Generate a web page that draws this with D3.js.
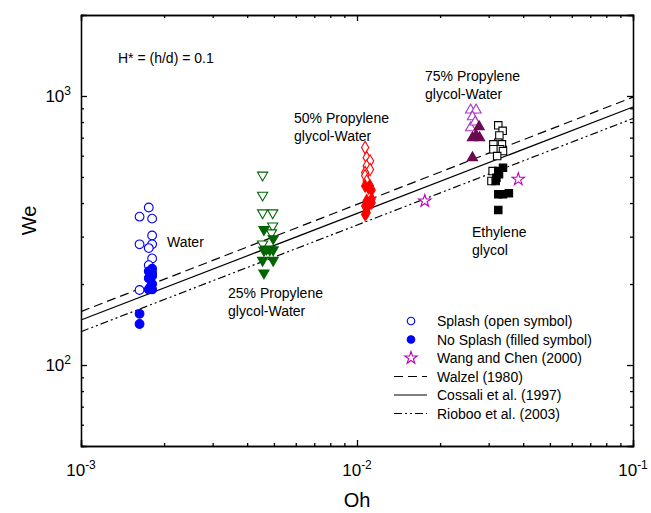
<!DOCTYPE html>
<html lang="en">
<head>
<meta charset="UTF-8">
<title>We vs Oh</title>
<script src="https://cdn.jsdelivr.net/npm/d3@7/dist/d3.min.js"></script>
<style>
  body { margin: 0; background: #fff; }
  text { font-family: "Liberation Sans", Arial, sans-serif; fill: #000; }
</style>
</head>
<body>
<svg id="chart" width="651" height="513"></svg>
<script>
// data: [Oh, We]
const waterOpen = [[1.76e-3,385],[1.63e-3,356],[1.81e-3,350],[1.81e-3,303],[1.63e-3,281],[1.81e-3,281],[1.76e-3,272],[1.81e-3,249],[1.76e-3,235],[1.63e-3,190]];
const waterFilled = [[1.81e-3,228],[1.81e-3,220],[1.76e-3,223],[1.81e-3,214],[1.76e-3,210],[1.81e-3,200],[1.78e-3,194],[1.76e-3,191],[1.81e-3,191],[1.63e-3,155],[1.63e-3,142]];
const pg25Open = [[4.55e-3,508],[4.55e-3,428],[4.55e-3,368],[4.95e-3,368],[4.95e-3,329],[4.9e-3,310],[4.55e-3,282]];
const pg25Filled = [[4.6e-3,319],[4.97e-3,295],[4.7e-3,270],[4.83e-3,268],[4.97e-3,268],[4.6e-3,267],[4.55e-3,245],[4.97e-3,245],[4.6e-3,220]];
const pg50Open = [[1.07e-2,643],[1.084e-2,590],[1.115e-2,573],[1.084e-2,549],[1.115e-2,533],[1.07e-2,519],[1.07e-2,505],[1.084e-2,483]];
const pg50Filled = [[1.07e-2,463],[1.115e-2,463],[1.10e-2,456],[1.13e-2,447],[1.084e-2,408],[1.13e-2,414],[1.07e-2,390],[1.10e-2,390],[1.13e-2,401],[1.084e-2,368],[1.07e-2,363]];
const pg75Open = [[2.58e-2,887],[2.7e-2,887],[2.62e-2,837],[2.58e-2,762],[2.68e-2,800]];
const pg75Filled = [[2.77e-2,769],[2.62e-2,700],[2.7e-2,715],[2.78e-2,700],[2.62e-2,590]];
const egOpen = [[3.25e-2,778],[3.37e-2,742],[3.28e-2,713],[3.25e-2,670],[3.12e-2,661],[3.35e-2,661],[3.30e-2,634],[3.12e-2,634],[3.38e-2,624],[3.22e-2,598],[3.10e-2,526],[3.07e-2,483]];
const egFilled = [[3.38e-2,541],[3.25e-2,526],[3.27e-2,512],[3.2e-2,497],[3.18e-2,483],[3.25e-2,431],[3.38e-2,431],[3.55e-2,435],[3.25e-2,377]];
const wangChen = [[1.76e-2,407],[3.84e-2,490]];

// correlation lines, values at Oh = 1e-3 and 1e-1
const lineOh = [1e-3, 1e-1];
const walzel = [158, 990];
const cossali = [147, 910];
const rioboo = [133, 825];

const xMajor = [1e-3, 1e-2, 1e-1];
const xLabels = ["-3", "-2", "-1"];
const yMajor = [1e2, 1e3];
const yLabels = ["2", "3"];

var margin = { top: 15, right: 18, bottom: 67, left: 81 };
var width = 651 - margin.left - margin.right,
    height = 513 - margin.top - margin.bottom;

var svg = d3.select("#chart");
var g = svg.append("g").attr("transform", `translate(${margin.left},${margin.top})`);

var x = d3.scaleLog().domain([1e-3, 1e-1]).range([0, width]);
var y = d3.scaleLog().domain([50, 2000]).range([height, 0]);

function minors(lo, hi) {
    var out = [];
    for (var p = Math.floor(Math.log10(lo)); p <= Math.ceil(Math.log10(hi)); p++) {
        for (var k = 2; k <= 9; k++) {
            var v = k * Math.pow(10, p);
            if (v > lo && v < hi) out.push(v);
        }
    }
    return out;
}
var xMinor = minors(1e-3, 1e-1);
var yMinor = minors(50, 2000);

// frame axes, ticks pointing inward
function addAxis(axisFn, scale, vals, size, tr) {
    var a = g.append("g").attr("transform", tr)
        .call(axisFn(scale).tickValues(vals).tickSize(size).tickFormat(""));
    a.selectAll("path, line").attr("stroke", "#000").attr("stroke-width", 1.3);
    return a;
}
addAxis(d3.axisBottom, x, xMinor, -3, `translate(0,${height})`);
addAxis(d3.axisBottom, x, xMajor, -6, `translate(0,${height})`);
addAxis(d3.axisTop, x, xMinor, -3, "translate(0,0)");
addAxis(d3.axisTop, x, xMajor, -6, "translate(0,0)");
addAxis(d3.axisLeft, y, yMinor, -3, "translate(0,0)");
addAxis(d3.axisLeft, y, yMajor, -6, "translate(0,0)");
addAxis(d3.axisRight, y, yMinor, -3, `translate(${width},0)`);
addAxis(d3.axisRight, y, yMajor, -6, `translate(${width},0)`);

// tick labels with superscripts
xMajor.forEach(function (v, i) {
    var t = g.append("text").attr("x", x(v)).attr("y", height + 30)
        .attr("text-anchor", "middle").style("font-size", "17px");
    t.append("tspan").text("10");
    t.append("tspan").attr("dy", -7).style("font-size", "12px").text(xLabels[i]);
});
yMajor.forEach(function (v, i) {
    var t = g.append("text").attr("x", -10).attr("y", y(v) + 6)
        .attr("text-anchor", "end").style("font-size", "17px");
    t.append("tspan").text("10");
    t.append("tspan").attr("dy", -7).style("font-size", "12px").text(yLabels[i]);
});

g.append("text").attr("x", width / 2).attr("y", height + 61)
    .attr("text-anchor", "middle").style("font-size", "20px").text("Oh");
g.append("text").attr("transform", `translate(-45,${height / 2 - 10}) rotate(-90)`)
    .attr("text-anchor", "middle").style("font-size", "20px").text("We");

// correlation lines
var lineGen = d3.line().x(d => x(d[0])).y(d => y(d[1]));
var lineStyles = [
    { vals: walzel, dash: "9,5" },
    { vals: cossali, dash: null },
    { vals: rioboo, dash: "8,3,2,3,2,3" }
];
lineStyles.forEach(function (s) {
    g.append("path")
        .attr("d", lineGen(lineOh.map((o, i) => [o, s.vals[i]])))
        .attr("fill", "none").attr("stroke", "#000").attr("stroke-width", 1.2)
        .attr("stroke-dasharray", s.dash);
});

// markers
function drawPts(data, type, size, color, filled) {
    g.append("g").selectAll("path").data(data).enter().append("path")
        .attr("transform", d => `translate(${x(d[0])},${y(d[1])})` + (type === "triDown" ? " rotate(180)" : ""))
        .attr("d", d3.symbol().type(type === "triDown" ? d3.symbolTriangle : type).size(size))
        .attr("fill", filled ? color : "#fff")
        .attr("stroke", color).attr("stroke-width", 1.1);
}
drawPts(waterOpen, d3.symbolCircle, 60, "#0000ff", false);
drawPts(waterFilled, d3.symbolCircle, 60, "#0000ff", true);
drawPts(pg25Open, "triDown", 45, "#006400", false);
drawPts(pg25Filled, "triDown", 45, "#006400", true);
drawPts(pg50Open, d3.symbolDiamond, 45, "#ff0000", false);
drawPts(pg50Filled, d3.symbolDiamond, 45, "#ff0000", true);
drawPts(pg75Open, d3.symbolTriangle, 45, "#a838c8", false);
drawPts(pg75Filled, d3.symbolTriangle, 45, "#6a0a4f", true);
drawPts(egOpen, d3.symbolSquare, 55, "#000", false);
drawPts(egFilled, d3.symbolSquare, 55, "#000", true);
drawPts(wangChen, d3.symbolStar, 48, "#c000c0", false);

// annotations
var notes = [
    { t: "H* = (h/d) = 0.1", x: 37, y: 48 },
    { t: "Water", x: 86, y: 232 },
    { t: "25% Propylene", x: 147, y: 283 },
    { t: "glycol-Water", x: 147, y: 301 },
    { t: "50% Propylene", x: 213, y: 108 },
    { t: "glycol-Water", x: 213, y: 126 },
    { t: "75% Propylene", x: 344, y: 66 },
    { t: "glycol-Water", x: 344, y: 84 },
    { t: "Ethylene", x: 391, y: 222 },
    { t: "glycol", x: 391, y: 240 }
];
g.selectAll(".note").data(notes).enter().append("text").attr("class", "note")
    .attr("x", d => d.x).attr("y", d => d.y).style("font-size", "14px").text(d => d.t);

// legend
var leg = g.append("g").attr("transform", "translate(313,306)");
var items = [
    { name: "Splash (open symbol)", kind: "circleOpen" },
    { name: "No Splash (filled symbol)", kind: "circleFilled" },
    { name: "Wang and Chen (2000)", kind: "star" },
    { name: "Walzel (1980)", kind: "line", dash: "9,5" },
    { name: "Cossali et al. (1997)", kind: "line", dash: null },
    { name: "Rioboo et al. (2003)", kind: "line", dash: "8,3,2,3,2,3" }
];
items.forEach(function (it, i) {
    var row = leg.append("g").attr("transform", `translate(0,${i * 18.5})`);
    if (it.kind === "line") {
        row.append("line").attr("x1", 0).attr("x2", 33).attr("y1", 0).attr("y2", 0)
            .attr("stroke", "#000").attr("stroke-width", 1.2).attr("stroke-dasharray", it.dash);
    } else {
        var sym = it.kind === "star" ? d3.symbolStar : d3.symbolCircle;
        var col = it.kind === "star" ? "#c000c0" : "#0000ff";
        row.append("path").attr("transform", "translate(17,0)")
            .attr("d", d3.symbol().type(sym).size(it.kind === "star" ? 48 : 45))
            .attr("fill", it.kind === "circleFilled" ? col : "#fff")
            .attr("stroke", col).attr("stroke-width", 1.1);
    }
    row.append("text").attr("x", 43).attr("y", 5).style("font-size", "14px").text(it.name);
});
</script>
</body>
</html>
